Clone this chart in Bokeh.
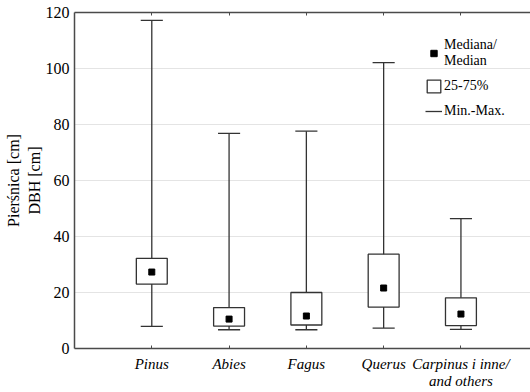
from bokeh.plotting import figure
from bokeh.models import (ColumnDataSource, FixedTicker, LinearAxis, Legend, LegendItem)
from bokeh.embed import file_html
from bokeh.resources import INLINE

# ---- data ----
species = ["Pinus", "Abies", "Fagus", "Querus", "Carpinus i inne/\nand others"]
minimum = [7.9, 6.7, 6.7, 7.3, 6.8]
q1 = [23.0, 8.0, 8.4, 14.8, 8.2]
median = [27.3, 10.5, 11.6, 21.6, 12.3]
q3 = [32.2, 14.6, 20.0, 33.7, 18.1]
maximum = [117.2, 76.8, 77.6, 102.1, 46.4]
y_ticks = [0, 20, 40, 60, 80, 100, 120]

pos = list(range(1, len(species) + 1))
BOX_W = 0.40
CAP_HALF = 0.143

src = ColumnDataSource(dict(
    x=pos, mn=minimum, q1=q1, med=median, q3=q3, mx=maximum,
    cl=[x - CAP_HALF for x in pos], cr=[x + CAP_HALF for x in pos],
))

SERIF = "Liberation Serif"
AX = "#4a4a4a"

p = figure(width=530, height=392, x_range=(0, 5.9), y_range=(0, 120),
           output_backend="svg", toolbar_location=None,
           min_border_left=74, min_border_right=0, min_border_top=12,
           min_border_bottom=44)
p.background_fill_color = "white"
p.border_fill_color = "white"
p.outline_line_color = None

# whiskers
stems = p.segment(x0="x", y0="mn", x1="x", y1="mx", source=src,
                  line_color="#333333", line_width=1.3)
caps_top = p.segment(x0="cl", y0="mx", x1="cr", y1="mx", source=src,
                     line_color="#333333", line_width=1.3)
caps_bot = p.segment(x0="cl", y0="mn", x1="cr", y1="mn", source=src,
                     line_color="#333333", line_width=1.3)
boxes = p.vbar(x="x", width=BOX_W, bottom="q1", top="q3", source=src,
               fill_color="white", line_color="#333333", line_width=1.3)
meds = p.scatter(x="x", y="med", source=src, marker="square", size=6,
                 fill_color="black", line_color="black")

# axes
xa = p.xaxis[0]
xa.ticker = FixedTicker(ticks=pos)
xa.major_label_overrides = {x: s for x, s in zip(pos, species)}
xa.major_label_text_font = SERIF
xa.major_label_text_font_style = "italic"
xa.major_label_text_font_size = "15px"
xa.major_label_text_line_height = 1.1
xa.major_label_text_color = "black"
xa.major_tick_in = 3
xa.major_tick_out = 0
xa.minor_tick_line_color = None
xa.axis_line_color = AX
xa.axis_line_width = 1.5
xa.major_tick_line_color = AX
xa.major_label_standoff = 7

ya = p.yaxis[0]
ya.ticker = FixedTicker(ticks=y_ticks)
ya.major_label_text_font = SERIF
ya.major_label_text_font_size = "16px"
ya.major_label_text_color = "black"
ya.major_tick_in = 0
ya.major_tick_out = 0
ya.minor_tick_line_color = None
ya.axis_line_color = AX
ya.axis_line_width = 1.5
ya.major_label_standoff = 5
ya.axis_label = "Pierśnica [cm]\nDBH [cm]"
ya.axis_label_text_font = SERIF
ya.axis_label_text_font_size = "16px"
ya.axis_label_text_font_style = "normal"
ya.axis_label_text_color = "black"
ya.axis_label_standoff = 0

top_ax = LinearAxis(ticker=FixedTicker(ticks=pos),
                    major_label_overrides={x: "" for x in pos},
                    major_tick_in=3, major_tick_out=0, minor_tick_line_color=None,
                    axis_line_color=AX, axis_line_width=1.5,
                    major_tick_line_color=AX, major_label_standoff=0)
p.add_layout(top_ax, "above")

p.xgrid.grid_line_color = None
p.ygrid.ticker = FixedTicker(ticks=y_ticks[1:-1])
p.ygrid.grid_line_color = "#c8c8c8"
p.ygrid.grid_line_dash = "1 1"
p.ygrid.grid_line_width = 1

legend = Legend(items=[
    LegendItem(label="Mediana/\nMedian", renderers=[meds]),
    LegendItem(label="25-75%", renderers=[boxes]),
    LegendItem(label="Min.-Max.", renderers=[caps_top]),
], location=(351, 229))
legend.label_text_font = "Liberation Serif, serif"
legend.label_text_font_size = "14px"
legend.label_text_color = "black"
legend.glyph_width = 17
legend.glyph_height = 16
legend.label_standoff = 2
legend.spacing = 9
legend.padding = 0
legend.margin = 0
legend.border_line_color = None
legend.background_fill_alpha = 0
p.add_layout(legend)

open("out.html", "w").write(file_html(p, INLINE))
